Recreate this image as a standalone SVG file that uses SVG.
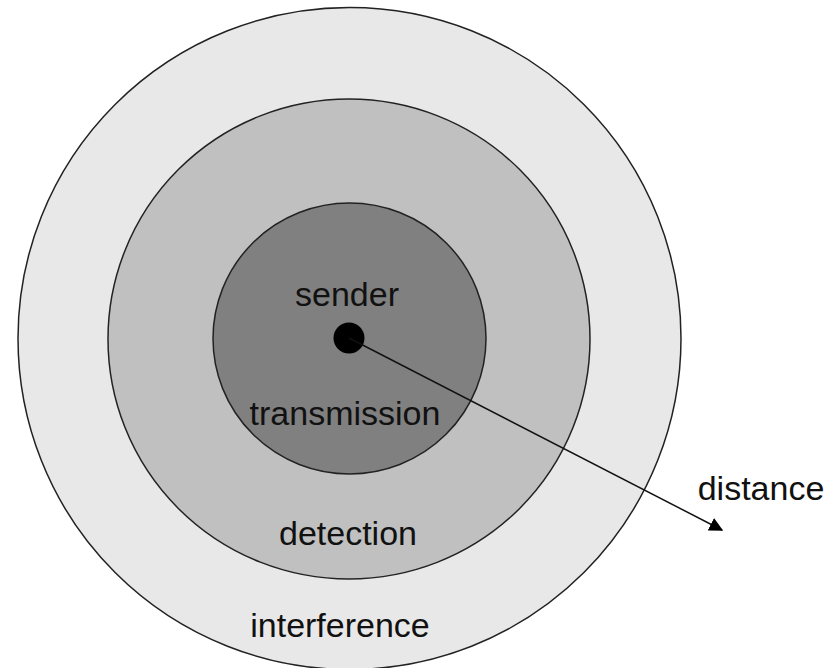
<svg xmlns="http://www.w3.org/2000/svg" width="838" height="668" viewBox="0 0 838 668">
<style>
.ring{stroke:#222;stroke-width:1.5}
.lbl{font-family:"Liberation Sans",Arial,sans-serif;font-size:34px;fill:#111;text-anchor:middle}
</style>
<defs>
<marker id="ah" viewBox="0 0 10 10" refX="9" refY="5" markerWidth="14" markerHeight="14" markerUnits="userSpaceOnUse" orient="auto">
<path d="M0,0 L10,5 L0,10 z" fill="#000"/>
</marker>
</defs>
<rect width="838" height="668" fill="#fff"/>
<g id="interference">
<ellipse class="ring" cx="349.5" cy="338.5" rx="331.5" ry="331" fill="#e8e8e8"/>
<text class="lbl" x="340" y="637">interference</text>
</g>
<g id="detection">
<ellipse class="ring" cx="349" cy="339" rx="241" ry="240" fill="#c0c0c0"/>
<text class="lbl" x="348" y="545">detection</text>
</g>
<g id="transmission">
<ellipse class="ring" cx="349.5" cy="338.5" rx="136.5" ry="135.5" fill="#808080"/>
<text class="lbl" x="345" y="425">transmission</text>
</g>
<g id="sender">
<circle cx="349" cy="338" r="15.5" fill="#000"/>
<text class="lbl" x="347" y="306">sender</text>
</g>
<g id="connectors">
<line x1="349" y1="338" x2="722" y2="530" stroke="#111" stroke-width="1.5" marker-end="url(#ah)"/>
</g>
<g id="distance">
<text class="lbl" x="761" y="500">distance</text>
</g>
</svg>
